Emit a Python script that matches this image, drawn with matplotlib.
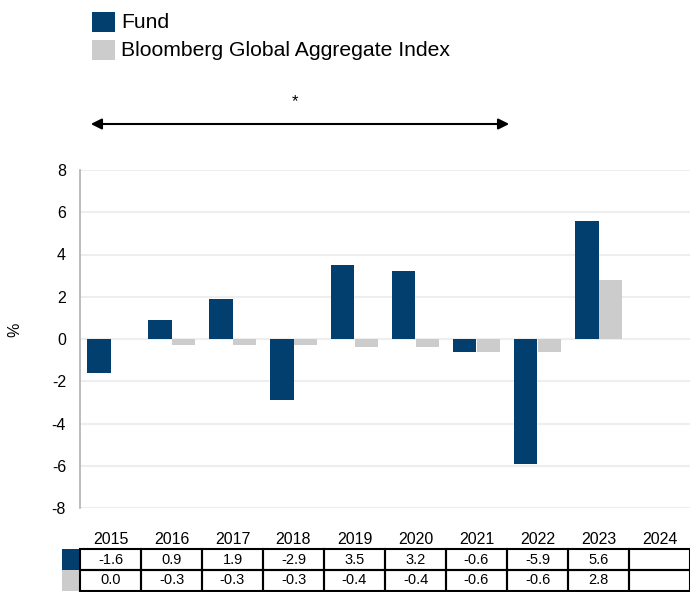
import matplotlib
matplotlib.use("Agg")
import matplotlib.pyplot as plt
from matplotlib.patches import Rectangle, FancyArrowPatch

plt.rcParams['font.family'] = ['Liberation Sans', 'DejaVu Sans']

years = ["2015", "2016", "2017", "2018", "2019", "2020", "2021", "2022", "2023", "2024"]
fund = [-1.6, 0.9, 1.9, -2.9, 3.5, 3.2, -0.6, -5.9, 5.6, None]
index = [0.0, -0.3, -0.3, -0.3, -0.4, -0.4, -0.6, -0.6, 2.8, None]
series_names = ["Fund", "Bloomberg Global Aggregate Index"]
yticks = [-8, -6, -4, -2, 0, 2, 4, 6, 8]

fund_color = "#023f6f"
index_color = "#cccccc"

W, H = 690, 592
fig = plt.figure(figsize=(W / 100, H / 100), dpi=100)


def fx(px):
    return px / W


def fy(py):
    return 1 - py / H


# main bar axes
ax = fig.add_axes([fx(80), fy(508), fx(610), (508 - 170) / H])
n = len(years)
xs = list(range(n))
bw = 0.38
for i in xs:
    if fund[i] is not None:
        ax.bar(i + 0.5 - bw / 2, fund[i], width=bw, color=fund_color, zorder=3)
    if index[i] is not None:
        ax.bar(i + 0.5 + bw / 2, index[i], width=bw, color=index_color, zorder=3)

ax.set_xlim(0, n)
ax.set_ylim(-8, 8)
ax.set_yticks(yticks)
ax.set_yticklabels([str(t) for t in yticks], fontsize=11.5)
ax.set_xticks([])
ax.grid(axis="y", color="#eeeeee", linewidth=1.5, zorder=0)
for s in ["top", "right", "bottom"]:
    ax.spines[s].set_visible(False)
ax.spines["left"].set_color("#b0b0b0")
ax.spines["left"].set_linewidth(1.2)
ax.tick_params(axis="y", length=0, pad=10)
ax.set_ylabel("%", fontsize=11.5)
ax.yaxis.set_label_coords((22 - 80) / 610, (508 - 330) / 338)

# data table under the chart
tax = fig.add_axes([fx(80), fy(591), fx(610), (591 - 528) / H])
tax.set_xlim(0, n)
tax.set_ylim(0, 3)
tax.axis("off")
for i, y in enumerate(years):
    tax.text(i + 0.5, 2.45, y, ha="center", va="center", fontsize=11.5)
rows = [fund, index]
colors = [fund_color, index_color]
for r, (vals, col) in enumerate(zip(rows, colors)):
    y0 = 1 - r
    tax.add_patch(Rectangle((-0.3, y0), 0.3, 1, facecolor=col, edgecolor="none", clip_on=False))
    for i, v in enumerate(vals):
        tax.add_patch(Rectangle((i, y0), 1, 1, facecolor="none", edgecolor="black",
                                linewidth=1.5, clip_on=False))
        if v is not None:
            tax.text(i + 0.5, y0 + 0.5, f"{v:.1f}", ha="center", va="center", fontsize=10.5)

# legend
for k, (name, col) in enumerate(zip(series_names, colors)):
    ytop = 12 + k * 28
    fig.patches.append(Rectangle((fx(92), fy(ytop + 20)), fx(23), 20 / H, facecolor=col,
                                 edgecolor="none", transform=fig.transFigure))
    fig.text(fx(121), fy(ytop + 10), name, ha="left", va="center", fontsize=15.2)

# period arrow
fig.add_artist(FancyArrowPatch((fx(88), fy(124)), (fx(512), fy(124)),
                               transform=fig.transFigure,
                               arrowstyle="<|-|>", mutation_scale=16,
                               color="black", linewidth=1.5))
fig.text(fx(295), fy(102), "*", ha="center", va="center", fontsize=12)

fig.savefig("out.png", dpi=100)
